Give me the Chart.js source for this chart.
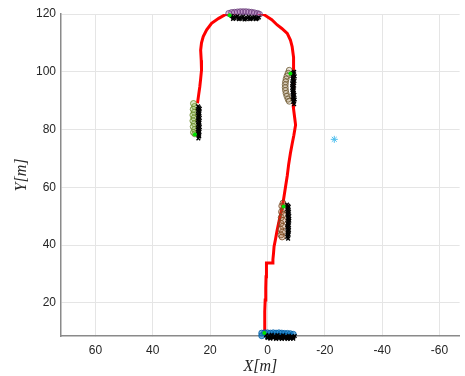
<!DOCTYPE html>
<html>
<head>
<meta charset="utf-8">
<script src="https://cdn.jsdelivr.net/npm/chart.js@4/dist/chart.umd.min.js"></script>
<style>
  html, body { margin: 0; padding: 0; background: #fff; overflow: hidden; }
  #chart { display: block; }
</style>
</head>
<body>
<canvas id="chart" width="465" height="376"></canvas>
<script>
// vehicle path (red)
const pathX = [1.1, 1.0, 0.9, 0.8, 0.6, 0.5, 0.4, 0.3, -1.7, -1.9, -2.1, -2.3, -2.8, -3.4, -4.2, -5.2, -5.8, -6.3, -6.9, -7.4, -8.0, -8.6, -9.2, -9.8, -9.5, -9.0, -9.2, -9.0, -9.2, -9.0, -8.6, -8.0, -6.9, -5.0, -3.4, -1.5, 1.1, 3.5, 5.7, 8.0, 10.3, 12.5, 14.9, 17.0, 19.5, 21.2, 22.4, 23.0, 23.3, 23.1, 23.0, 23.3, 23.6, 24.0, 24.4];
const pathY = [9.5, 13, 17, 21, 25, 29, 32.6, 33.8, 33.8, 35, 37, 39.5, 42, 45.3, 49, 53.3, 57, 60.2, 64, 68, 71.8, 75, 78, 81.6, 84, 87.9, 92, 96, 101.8, 105, 108.7, 111, 113.3, 115, 116.2, 118, 119.7, 120.4, 120.8, 120.9, 120.5, 120.1, 119.7, 118.5, 116.8, 114.5, 112.2, 110, 107.5, 104, 100.6, 97.5, 94.8, 92, 89.1];

// detections (black x)
const detections = [
  // bottom
  [0.5, 8.8], [-0.5, 8.6], [-1.5, 8.9], [-2.5, 8.5], [-3.5, 8.8], [-4.5, 8.4], [-5.5, 8.7], [-6.5, 8.3], [-7.5, 8.6], [-8.5, 8.3], [-9.5, 8.5],
  [0, 7.8], [-1, 7.6], [-2, 7.8], [-3, 7.5], [-4, 7.7], [-5, 7.5], [-6, 7.7], [-7, 7.5], [-8, 7.6], [-9, 7.6],
  [0, 8.2], [-1, 8.2], [-2, 8.1], [-3, 8.2], [-4, 8.1], [-5, 8.2], [-6, 8.0], [-7, 8.1], [-8, 8.0], [-9, 8.1],
  // middle
  [-6.8, 54], [-7.4, 53.2], [-6.9, 52.4], [-7.5, 51.6], [-7.0, 50.8], [-7.6, 50], [-7.1, 49.2], [-7.6, 48.4], [-7.0, 47.6], [-7.5, 46.8], [-6.9, 46], [-7.5, 45.2], [-7.0, 44.4], [-7.4, 43.6], [-6.9, 42.8], [-7.2, 42.2],
  [-7.2, 53.6], [-7.1, 52.8], [-7.2, 52.0], [-7.3, 51.2], [-7.2, 50.4], [-7.3, 49.6], [-7.4, 48.8], [-7.3, 48.0], [-7.2, 47.2], [-7.2, 46.4], [-7.2, 45.6], [-7.3, 44.8], [-7.2, 44.0], [-7.1, 43.2],
  // left
  [24.2, 88], [23.6, 87.2], [24.3, 86.4], [23.7, 85.6], [24.2, 84.8], [23.6, 84], [24.3, 83.2], [23.7, 82.4], [24.2, 81.6], [23.6, 80.8], [24.3, 80], [23.7, 79.2], [24.2, 78.4], [23.8, 77.6], [24.1, 76.9],
  [23.9, 87.6], [24.0, 86.8], [23.9, 86.0], [24.0, 85.2], [23.9, 84.4], [24.0, 83.6], [23.9, 82.8], [24.0, 82.0], [23.9, 81.2], [24.0, 80.4], [23.9, 79.6], [24.0, 78.8], [23.9, 78.0],
  // upper right
  [-9.3, 100], [-8.8, 99.2], [-9.5, 98.4], [-8.7, 97.6], [-9.4, 96.8], [-8.6, 96], [-9.3, 95.2], [-8.6, 94.4], [-9.2, 93.6], [-8.7, 92.8], [-9.4, 92], [-8.8, 91.2], [-9.5, 90.4], [-9.0, 89.6], [-9.3, 88.8],
  [-9.0, 99.6], [-9.1, 98.8], [-9.0, 98.0], [-9.0, 97.2], [-9.0, 96.4], [-8.9, 95.6], [-8.9, 94.8], [-8.9, 94.0], [-9.0, 93.2], [-9.0, 92.4], [-9.1, 91.6], [-9.1, 90.8], [-9.2, 90.0],
  // top
  [12.5, 119.3], [11.5, 118.6], [10.5, 119.2], [9.5, 118.4], [8.5, 119.1], [7.5, 118.3], [6.5, 119.0], [5.5, 118.4], [4.5, 118.9], [3.5, 118.5], [12, 118.3], [10, 118.2], [8, 118.1], [6, 118.2], [4, 118.2],
  [12, 118.8], [11, 118.9], [10, 118.7], [9, 118.8], [8, 118.6], [7, 118.7], [6, 118.6], [5, 118.7], [4, 118.6], [3, 118.8]
];

// tracks (circles)
const trackBottom = [[2, 9.5], [1, 9.6], [0, 9.6], [-1, 9.5], [-2, 9.6], [-3, 9.5], [-4, 9.6], [-5, 9.5], [-6, 9.4], [-7, 9.4], [-8, 9.3], [-9, 9.1], [2, 8.6], [0, 8.5], [-2, 8.6], [-4, 8.5], [-6, 8.5], [-8, 8.4]];
const trackMiddle = [[-5.4, 54.5], [-5.0, 53.5], [-5.6, 52.5], [-4.9, 51.5], [-5.5, 50.5], [-4.8, 49.5], [-5.4, 48.5], [-4.7, 47.5], [-5.3, 46.5], [-4.6, 45.5], [-5.2, 44.5], [-4.7, 43.5], [-5.1, 42.8]];
const trackLeft = [[25.8, 89], [25.4, 88], [25.9, 87], [25.5, 86], [26.0, 85], [25.6, 84], [26.0, 83], [25.5, 82], [25.9, 81], [25.4, 80], [25.8, 79], [25.3, 78.5]];
const trackRight = [[-7.6, 100.5], [-7.2, 99.5], [-6.8, 98.5], [-6.5, 97.5], [-6.3, 96.5], [-6.2, 95.5], [-6.2, 94.5], [-6.3, 93.5], [-6.5, 92.5], [-6.8, 91.5], [-7.2, 90.5], [-7.6, 89.8]];
const trackTop = [[13.5, 120.2], [12.5, 120.5], [11.5, 120.6], [10.5, 120.7], [9.5, 120.8], [8.5, 120.8], [7.5, 120.8], [6.5, 120.7], [5.5, 120.6], [4.5, 120.4], [3.5, 120.2], [2.8, 119.9]];

const startPoints = [[1.1, 9.5], [-5.6, 53.3], [-8.0, 99.4], [25.3, 78.3], [13.2, 119.6]];
const landmark = [[-23.3, 76.6]];

const xTicks = [60, 40, 20, 0, -20, -40, -60];
const yTicks = [20, 40, 60, 80, 100, 120];

const toXY = arr => arr.map(p => ({ x: p[0], y: p[1] }));

const ctx = document.getElementById("chart").getContext("2d");

function circles(data, color, fill) {
  return {
    data: toXY(data),
    pointStyle: "circle",
    pointRadius: 3,
    borderWidth: 0.8,
    borderColor: color,
    backgroundColor: fill,
    clip: false,
  };
}

new Chart(ctx, {
  type: "scatter",
  data: {
    datasets: [
      { data: toXY(landmark), pointStyle: "star", pointRadius: 3.5, borderWidth: 1, borderColor: "#4dbeee", backgroundColor: "#4dbeee" },
      { data: toXY(startPoints), pointStyle: "circle", pointRadius: 2, borderWidth: 0, backgroundColor: "#00e000", clip: false },
      { data: toXY(detections), pointStyle: "crossRot", pointRadius: 2.6, borderWidth: 1.4, borderColor: "#000", clip: false },
      circles(trackBottom, "#0060a8", "rgba(0,114,189,0.55)"),
      circles(trackMiddle, "#7a4a22", "rgba(160,90,40,0.25)"),
      circles(trackLeft, "#6b8a2a", "rgba(119,172,48,0.25)"),
      circles(trackRight, "#6e5a34", "rgba(140,110,60,0.2)"),
      circles(trackTop, "#6a3d7a", "rgba(126,47,142,0.3)"),
      {
        data: pathX.map((x, i) => ({ x: x, y: pathY[i] })),
        showLine: true,
        borderColor: "#ff0000",
        borderWidth: 3,
        pointRadius: 0,
        tension: 0,
      },
    ],
  },
  options: {
    responsive: false,
    animation: false,
    layout: { padding: { top: 14, right: 0, left: 0, bottom: 0 } },
    plugins: { legend: { display: false }, tooltip: { enabled: false } },
    scales: {
      x: {
        type: "linear",
        reverse: true,
        min: -67,
        max: 72,
        afterBuildTicks: axis => { axis.ticks = xTicks.map(v => ({ value: v })); },
        afterFit: scale => { scale.height = 40; },
        ticks: { color: "#262626", font: { family: "Liberation Sans", size: 12 }, padding: 7 },
        grid: { color: "#e5e5e5", tickLength: 0 },
        border: { color: "#8a8a8a", width: 1.5 },
        title: { display: true, text: "X[m]", color: "#262626", font: { family: "Liberation Serif", size: 16, style: "italic" }, padding: { top: 0, bottom: 0 } },
      },
      y: {
        type: "linear",
        min: 8.5,
        max: 120,
        afterBuildTicks: axis => { axis.ticks = yTicks.map(v => ({ value: v })); },
        afterFit: scale => { scale.width = 61; },
        ticks: { color: "#262626", font: { family: "Liberation Sans", size: 12 }, padding: 5 },
        grid: { color: "#e5e5e5", tickLength: 0 },
        border: { color: "#8a8a8a", width: 1.5 },
        title: { display: true, text: "Y[m]", color: "#262626", font: { family: "Liberation Serif", size: 16, style: "italic" }, padding: { top: 12, bottom: 0 } },
      },
    },
  },
});
</script>
</body>
</html>
